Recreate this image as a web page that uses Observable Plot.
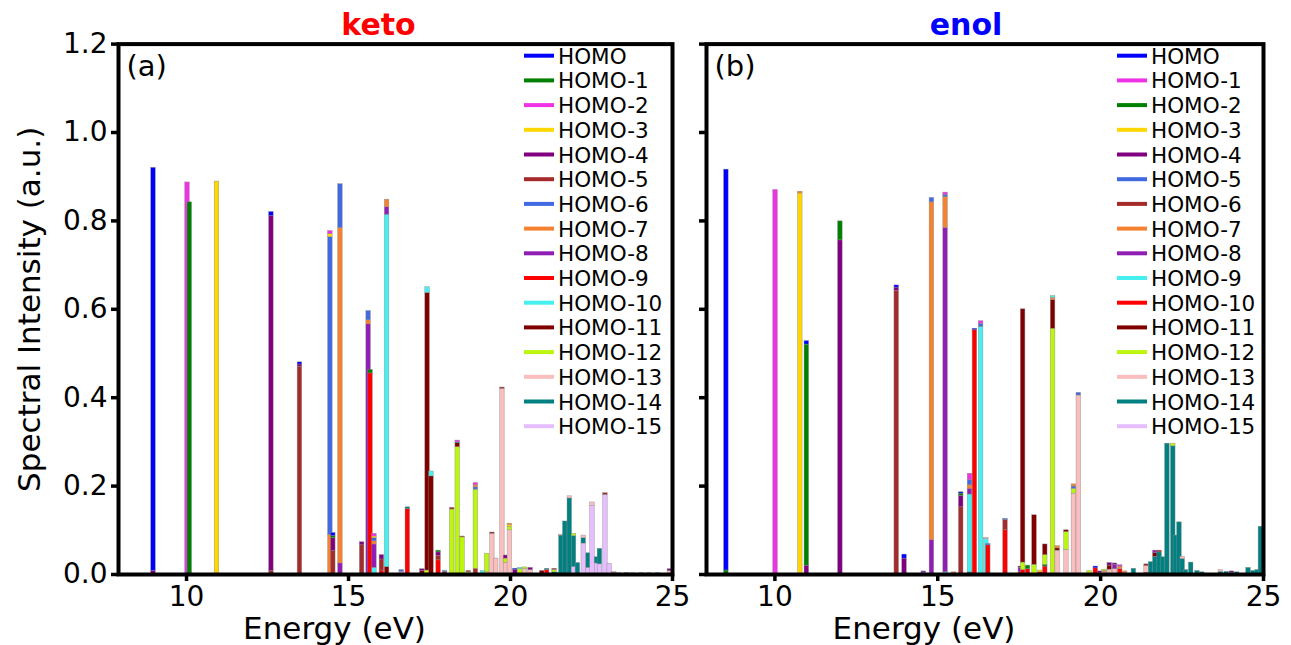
<!DOCTYPE html>
<html><head><meta charset="utf-8">
<script src="https://cdn.jsdelivr.net/npm/d3@7"></script>
<script src="https://cdn.jsdelivr.net/npm/@observablehq/plot@0.6"></script>
<style>
body{margin:0;background:#fff;font-family:"DejaVu Sans",sans-serif;}
#wrap{position:relative;width:1291px;height:645px;overflow:hidden;background:#fff}
.panel{position:absolute;top:0}
svg{overflow:visible}
</style></head><body><div id="wrap"></div>
<script>
// ---- data ----
const orbitals = ["HOMO","HOMO-1","HOMO-2","HOMO-3","HOMO-4","HOMO-5","HOMO-6","HOMO-7",
  "HOMO-8","HOMO-9","HOMO-10","HOMO-11","HOMO-12","HOMO-13","HOMO-14","HOMO-15"];
const ketoColors = ["#0000ff","#008000","#f032e6","#ffd700","#800080","#a52a2a","#4169e1","#f58231",
  "#911eb4","#ff0000","#46f0f0","#800000","#bcf60c","#fabebe","#008080","#e6beff"];
const enolColors = ["#0000ff","#f032e6","#008000","#ffd700","#800080","#4169e1","#a52a2a","#f58231",
  "#911eb4","#46f0f0","#ff0000","#800000","#bcf60c","#fabebe","#008080","#e6beff"];
const xTicks = [10, 15, 20, 25];
const yTicks = [0, 0.2, 0.4, 0.6, 0.8, 1.0, 1.2];
// rows: [energy (eV), orbital index, intensity], listed bottom to top within each bar
const ketoBars = [
  [8.98,4,0.008],[8.98,0,0.912],
  [10.03,2,0.887],
  [10.10,1,0.842],
  [10.94,3,0.889],
  [12.62,5,0.008],[12.62,4,0.803],[12.62,0,0.009],
  [13.50,5,0.47],[13.50,4,0.005],[13.50,0,0.005],
  [14.44,7,0.09],[14.44,6,0.673],[14.44,3,0.007],[14.44,2,0.007],
  [14.53,5,0.053],[14.53,4,0.029],[14.53,1,0.005],[14.53,0,0.007],
  [14.75,8,0.025],[14.75,7,0.759],[14.75,6,0.099],
  [15.42,5,0.066],[15.42,4,0.007],
  [15.62,8,0.566],[15.62,7,0.009],[15.62,6,0.021],
  [15.68,9,0.455],[15.68,1,0.008],
  [15.80,10,0.015],[15.80,8,0.053],[15.80,7,0.007],[15.80,6,0.007],[15.80,3,0.004],[15.80,2,0.006],
  [16.03,9,0.009],[16.03,5,0.025],[16.03,4,0.01],
  [16.19,11,0.017],[16.19,10,0.797],[16.19,8,0.017],[16.19,7,0.017],
  [16.64,13,0.006],[16.64,6,0.004],
  [16.83,9,0.148],[16.83,14,0.004],
  [17.28,11,0.008],[17.28,4,0.004],
  [17.44,12,0.009],[17.44,11,0.628],[17.44,10,0.013],
  [17.56,11,0.222],[17.56,10,0.011],
  [17.78,9,0.032],[17.78,5,0.01],[17.78,4,0.008],[17.78,1,0.004],
  [17.98,5,0.005],[17.98,6,0.003],
  [18.20,12,0.147],[18.20,5,0.004],
  [18.37,12,0.288],[18.37,11,0.009],[18.37,14,0.002],[18.37,2,0.004],
  [18.52,12,0.084],[18.52,5,0.002],
  [18.71,12,0.005],[18.71,5,0.003],
  [18.93,5,0.013],[18.93,12,0.179],[18.93,6,0.005],[18.93,7,0.005],[18.93,2,0.005],
  [19.15,10,0.008],
  [19.28,13,0.005],[19.28,12,0.042],
  [19.44,13,0.092],[19.44,5,0.003],
  [19.56,13,0.036],
  [19.75,13,0.42],[19.75,5,0.003],
  [19.86,13,0.026],[19.86,12,0.01],[19.86,4,0.007],
  [19.98,13,0.1],[19.98,12,0.008],[19.98,3,0.004],[19.98,7,0.003],
  [20.15,4,0.01],[20.15,0,0.003],
  [20.30,12,0.012],[20.30,10,0.003],
  [20.45,13,0.012],[20.45,12,0.004],
  [20.62,13,0.01],[20.62,4,0.005],
  [20.98,11,0.008],
  [21.13,9,0.01],[21.13,14,0.003],
  [21.36,14,0.005],[21.36,12,0.005],[21.36,5,0.003],
  [21.46,14,0.004],
  [21.57,14,0.088],[21.57,13,0.002],
  [21.69,14,0.12],
  [21.83,14,0.172],[21.83,13,0.005],
  [21.96,15,0.017],[21.96,14,0.07],[21.96,12,0.005],
  [22.08,14,0.026],
  [22.26,15,0.07],[22.26,14,0.012],[22.26,13,0.006],
  [22.41,15,0.015],[22.41,14,0.033],
  [22.53,15,0.155],[22.53,13,0.008],
  [22.67,15,0.025],[22.67,14,0.014],
  [22.76,15,0.023],[22.76,14,0.035],
  [22.93,15,0.18],[22.93,5,0.004],
  [23.06,15,0.024],
  [23.20,7,0.004],[23.20,13,0.002],
  [23.35,7,0.003],
  [23.60,4,0.003],
  [23.80,13,0.003],
  [24.05,6,0.003],
  [24.30,13,0.004],
  [24.55,6,0.003],
  [24.92,13,0.008],[24.92,4,0.004]
];
const enolBars = [
  [8.51,2,0.009],[8.51,0,0.907],
  [10.02,1,0.87],
  [10.78,3,0.862],[10.78,7,0.004],
  [10.98,4,0.02],[10.98,2,0.5],[10.98,0,0.008],
  [12.01,4,0.756],[12.01,2,0.043],
  [13.74,6,0.642],[13.74,4,0.007],[13.74,0,0.005],
  [13.98,4,0.036],[13.98,0,0.009],
  [14.57,5,0.004],[14.57,8,0.003],
  [14.82,8,0.078],[14.82,7,0.764],[14.82,5,0.01],
  [15.24,9,0.005],[15.24,8,0.779],[15.24,7,0.07],[15.24,5,0.005],[15.24,1,0.005],
  [15.50,7,0.005],
  [15.72,6,0.152],[15.72,4,0.026],[15.72,2,0.005],[15.72,0,0.003],
  [15.99,14,0.005],[15.99,9,0.176],[15.99,8,0.013],[15.99,7,0.008],[15.99,5,0.011],[15.99,1,0.015],
  [16.14,10,0.553],[16.14,0,0.003],
  [16.33,9,0.56],[16.33,5,0.007],[16.33,1,0.006],
  [16.49,9,0.08],[16.49,13,0.003],
  [16.55,10,0.066],[16.55,5,0.003],
  [17.08,10,0.1],[17.08,6,0.023],[17.08,5,0.003],
  [17.55,10,0.005],[17.55,8,0.01],[17.55,4,0.003],
  [17.62,10,0.01],[17.62,12,0.017],[17.62,11,0.573],
  [17.77,10,0.012],[17.77,2,0.008],
  [17.97,12,0.022],[17.97,11,0.112],
  [18.15,10,0.005],[18.15,3,0.004],
  [18.30,10,0.018],[18.30,2,0.004],[18.30,12,0.022],[18.30,11,0.024],
  [18.54,12,0.556],[18.54,11,0.065],[18.54,7,0.005],[18.54,9,0.004],
  [18.68,13,0.054],[18.68,11,0.005],[18.68,7,0.005],
  [18.95,13,0.056],[18.95,12,0.04],[18.95,11,0.004],
  [19.18,13,0.183],[19.18,12,0.011],[19.18,5,0.005],[19.18,7,0.005],
  [19.33,13,0.405],[19.33,5,0.006],
  [19.66,12,0.008],
  [19.85,10,0.014],[19.85,0,0.004],
  [19.98,11,0.004],[19.98,4,0.003],
  [20.12,13,0.005],[20.12,7,0.003],[20.12,12,0.003],
  [20.28,13,0.011],[20.28,11,0.009],[20.28,4,0.006],
  [20.44,13,0.012],[20.44,8,0.01],[20.44,4,0.003],
  [20.60,10,0.012],[20.60,7,0.006],[20.60,1,0.003],
  [20.75,13,0.004],[20.75,7,0.003],
  [21.02,14,0.013],
  [21.41,10,0.004],[21.41,13,0.015],[21.41,6,0.004],
  [21.55,14,0.028],
  [21.68,14,0.04],[21.68,11,0.008],[21.68,8,0.006],
  [21.81,14,0.05],[21.81,6,0.004],
  [21.92,14,0.039],
  [22.05,14,0.296],
  [22.23,14,0.29],[22.23,12,0.006],
  [22.31,14,0.088],
  [22.42,14,0.118],
  [22.52,14,0.035],[22.52,13,0.005],
  [22.62,14,0.01],
  [22.78,14,0.027],
  [22.97,14,0.008],
  [23.12,14,0.005],
  [23.69,14,0.006],[23.69,13,0.004],
  [23.87,14,0.006],
  [24.03,14,0.004],[24.03,4,0.003],
  [24.19,14,0.005],
  [24.54,14,0.015],
  [24.69,14,0.008],
  [24.82,14,0.01],
  [24.92,14,0.108]
];

// ---- drawing ----
const barWidth = 0.14;
const wrap = document.getElementById("wrap");

function panel({bars, colors, title, titleColor, tag, left, width, marginLeft, marginRight, yLabels, titleDx}) {
  const chart = Plot.plot({
    width, height: 645,
    marginTop: 43.6, marginBottom: 71, marginLeft, marginRight,
    style: {fontFamily: "DejaVu Sans", background: "transparent", overflow: "visible", color: "black"},
    x: {domain: [7.9, 25]},
    y: {domain: [0, 1.2]},
    color: {type: "identity"},
    marks: [
      Plot.rectY(bars, Plot.stackY({
        x1: d => d[0] - barWidth / 2,
        x2: d => d[0] + barWidth / 2,
        y: d => d[2],
        fill: d => colors[d[1]],
        stroke: "#8a8a8a", strokeWidth: 0.5, strokeOpacity: 0.8
      })),
      Plot.frame({stroke: "black", strokeWidth: 4}),
      Plot.axisX({ticks: xTicks, tickSize: 7, tickPadding: 5, strokeWidth: 3.5, fontSize: 28, label: null}),
      Plot.axisY({ticks: yTicks, tickSize: 7, tickPadding: 4, strokeWidth: 3.5, fontSize: 28, label: null,
        tickFormat: yLabels ? d => d.toFixed(1) : () => ""}),
      Plot.text([title], {frameAnchor: "top", dx: titleDx, dy: -19, lineAnchor: "middle", textAnchor: "middle",
        fill: titleColor, fontWeight: "bold", fontSize: 30}),
      Plot.text([tag], {frameAnchor: "top-left", dx: 8, dy: 23, lineAnchor: "middle", textAnchor: "start", fontSize: 29}),
      Plot.text(["Energy (eV)"], {frameAnchor: "bottom", dx: -61, dy: 55, lineAnchor: "middle", textAnchor: "middle", fontSize: 31}),
      ...(yLabels ? [Plot.text(["Spectral Intensity (a.u.)"], {frameAnchor: "left", dx: -88, rotate: -90,
        lineAnchor: "middle", textAnchor: "middle", fontSize: 31})] : [])
    ]
  });
  chart.classList.add("panel");
  chart.style.left = left + "px";
  chart.style.position = "absolute";
  wrap.appendChild(chart);
}

panel({bars: ketoBars, colors: ketoColors, title: "keto", titleColor: "#ff0000", tag: "(a)",
  left: 0, width: 680, marginLeft: 118, marginRight: 8, yLabels: true, titleDx: -17});
panel({bars: enolBars, colors: enolColors, title: "enol", titleColor: "#0000ff", tag: "(b)",
  left: 680, width: 611, marginLeft: 26, marginRight: 28, yLabels: false, titleDx: -19});

// legends
function legend(colors, lineX, textX) {
  const svg = d3.select(wrap).append("svg")
    .attr("width", 1291).attr("height", 645)
    .style("position", "absolute").style("left", "0px").style("top", "0px");
  const g = svg.selectAll("g").data(orbitals).join("g")
    .attr("transform", (d, i) => `translate(0,${55.7 + i * 24.7})`);
  g.append("line").attr("x1", lineX).attr("x2", lineX + 30)
    .attr("stroke", (d, i) => colors[i]).attr("stroke-width", 4);
  g.append("text").attr("x", textX).attr("y", 8)
    .attr("font-family", "DejaVu Sans").attr("font-size", 21.5).attr("fill", "black")
    .text(d => d);
}
legend(ketoColors, 524, 558);
legend(enolColors, 1117, 1151);
</script>
</body></html>
